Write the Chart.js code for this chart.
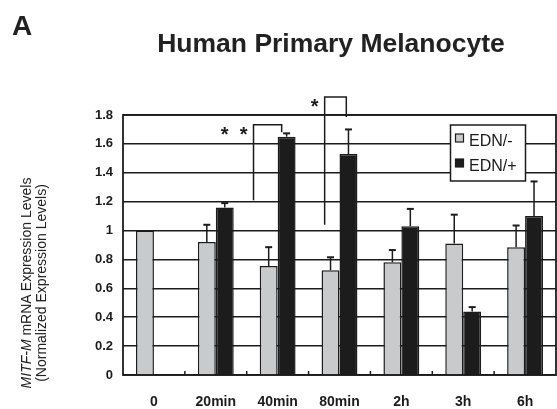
<!DOCTYPE html>
<html>
<head>
<meta charset="utf-8">
<script src="https://cdn.jsdelivr.net/npm/chart.js@4"></script>
<style>
  body { margin: 0; background: #fff; }
  #wrap { position: relative; width: 557px; height: 409px; font-family: "Liberation Sans", Arial, sans-serif; color: #222; }
  #panel { position: absolute; left: 12px; top: 10px; font: bold 28px/32px "Liberation Sans", Arial, sans-serif; }
  #title { position: absolute; left: 0; width: 662px; top: 28px; text-align: center; font: bold 26.5px/30px "Liberation Sans", Arial, sans-serif; }
  #ytitle { position: absolute; left: -75px; top: 267px; width: 220px; height: 32px; text-align: center;
            font: 14px/15px "Liberation Sans", Arial, sans-serif; transform: rotate(-90deg); white-space: nowrap; }
</style>
</head>
<body>
<div id="wrap">
  <canvas id="chart" width="557" height="409"></canvas>
  <div id="panel">A</div>
  <div id="title">Human Primary Melanocyte</div>
  <div id="ytitle"><div><i>MITF-M</i> mRNA Expression Levels</div><div>(Normalized Expression Levels)</div></div>
</div>
<script>
// ── Data ──────────────────────────────────────────────────────
const categories  = ["0", "20min", "40min", "80min", "2h", "3h", "6h"];
const ednMinus    = [1.00, 0.92, 0.755, 0.725, 0.78, 0.91, 0.885];
const ednPlus     = [null, 1.16, 1.65, 1.53, 1.03, 0.44, 1.10];
// upper error (SD) for each bar
const ednMinusErr = [0, 0.12, 0.13, 0.09, 0.085, 0.20, 0.15];
const ednPlusErr  = [0, 0.03, 0.023, 0.17, 0.12, 0.03, 0.24];
const yTickLabels = ["0", "0.2", "0.4", "0.6", "0.8", "1", "1.2", "1.4", "1.6", "1.8"];

// significance brackets: category, leg offsets (in category units), top value, leg base values
const sigLabels    = ["*  *", "*"];
const sigCategory  = [2, 3];
const sigLegs      = [[-0.39, 0.065], [-0.24, 0.11]];
const sigTop       = [1.733, 1.925];
const sigLegBase   = [[1.21, 1.68], [1.04, 1.787]];

const INK  = "#1c1c1c";
const GREY = "#c9cacc";
const FONT = "'Liberation Sans', Arial, sans-serif";

// ── Extra drawing: frame, error bars, ticks, brackets, legend ──
const extras = {
  id: "extras",
  beforeDatasetsDraw(chart) {
    const { ctx, chartArea: a } = chart;
    ctx.save();
    ctx.strokeStyle = INK;
    ctx.lineWidth = 1.8;
    ctx.strokeRect(a.left, a.top, a.right - a.left, a.bottom - a.top);
    // small inner tick marks at category boundaries
    const xs = chart.scales.x;
    ctx.lineWidth = 1.5;
    for (let k = 1; k < categories.length; k++) {
      const x = xs.getPixelForValue(k - 0.5);
      ctx.beginPath();
      ctx.moveTo(x, a.bottom);
      ctx.lineTo(x, a.bottom - 4);
      ctx.stroke();
    }
    ctx.restore();
  },
  afterDatasetsDraw(chart) {
    const { ctx } = chart;
    const ys = chart.scales.y;
    const xs = chart.scales.x;
    const errs = [ednMinusErr, ednPlusErr];

    ctx.save();
    ctx.strokeStyle = INK;

    // error bars (upper only)
    chart.data.datasets.forEach((ds, i) => {
      const meta = chart.getDatasetMeta(i);
      ds.data.forEach((v, j) => {
        if (v === null || !errs[i][j]) return;
        const bar = meta.data[j];
        const yTop = ys.getPixelForValue(v + errs[i][j]);
        ctx.lineWidth = 1.5;
        ctx.beginPath();
        ctx.moveTo(bar.x, bar.y);
        ctx.lineTo(bar.x, yTop);
        ctx.stroke();
        ctx.lineWidth = 2;
        ctx.beginPath();
        ctx.moveTo(bar.x - 3.5, yTop);
        ctx.lineTo(bar.x + 3.5, yTop);
        ctx.stroke();
      });
    });

    // significance brackets
    ctx.lineWidth = 1.5;
    ctx.fillStyle = INK;
    ctx.font = "bold 20px " + FONT;
    ctx.textAlign = "right";
    ctx.textBaseline = "alphabetic";
    sigLabels.forEach((lab, i) => {
      const xl = xs.getPixelForValue(sigCategory[i] + sigLegs[i][0]);
      const xr = xs.getPixelForValue(sigCategory[i] + sigLegs[i][1]);
      const yt = ys.getPixelForValue(sigTop[i]);
      ctx.beginPath();
      ctx.moveTo(xl, ys.getPixelForValue(sigLegBase[i][0]));
      ctx.lineTo(xl, yt);
      ctx.lineTo(xr, yt);
      ctx.lineTo(xr, ys.getPixelForValue(sigLegBase[i][1]));
      ctx.stroke();
      ctx.fillText(lab, xl - 6, yt + 16);
    });

    // legend box inside the plot
    const lx = 450.5, ly = 125, lw = 75, lh = 56;
    ctx.fillStyle = "#fff";
    ctx.fillRect(lx, ly, lw, lh);
    ctx.strokeRect(lx, ly, lw, lh);
    ctx.font = "16px " + FONT;
    ctx.textAlign = "left";
    chart.data.datasets.forEach((ds, i) => {
      const y = ly + 9 + i * 25;
      ctx.fillStyle = ds.backgroundColor;
      ctx.fillRect(lx + 5, y, 8, 8);
      ctx.lineWidth = 1.2;
      ctx.strokeRect(lx + 5, y, 8, 8);
      ctx.fillStyle = INK;
      ctx.fillText(ds.label, lx + 18.5, y + 12);
    });
    ctx.restore();
  }
};

new Chart(document.getElementById("chart"), {
  type: "bar",
  data: {
    labels: categories,
    datasets: [
      { label: "EDN/-", data: ednMinus, backgroundColor: GREY, borderColor: INK, borderWidth: 1.5 },
      { label: "EDN/+", data: ednPlus,  backgroundColor: INK,  borderColor: INK, borderWidth: 1.5 }
    ]
  },
  options: {
    responsive: false,
    animation: false,
    layout: { padding: { top: 115, right: 1, left: 0, bottom: 0 } },
    datasets: { bar: { categoryPercentage: 0.58, barPercentage: 1.0 } },
    plugins: { legend: { display: false }, tooltip: { enabled: false } },
    scales: {
      x: {
        offset: true,
        grid: { display: false, drawTicks: false },
        border: { display: false },
        ticks: { color: INK, font: { family: FONT, size: 14, weight: "bold" }, padding: 19, maxRotation: 0, autoSkip: false },
        afterFit: s => { s.height = 34; }
      },
      y: {
        min: 0,
        max: 1.8,
        grid: { color: INK, lineWidth: 1.6, drawTicks: false },
        border: { display: false },
        ticks: {
          stepSize: 0.2,
          color: INK,
          padding: 10,
          font: { family: FONT, size: 13, weight: "bold" },
          callback: (v, i) => yTickLabels[i]
        },
        afterFit: s => { s.width = 123; }
      }
    }
  },
  plugins: [extras]
});
</script>
</body>
</html>
